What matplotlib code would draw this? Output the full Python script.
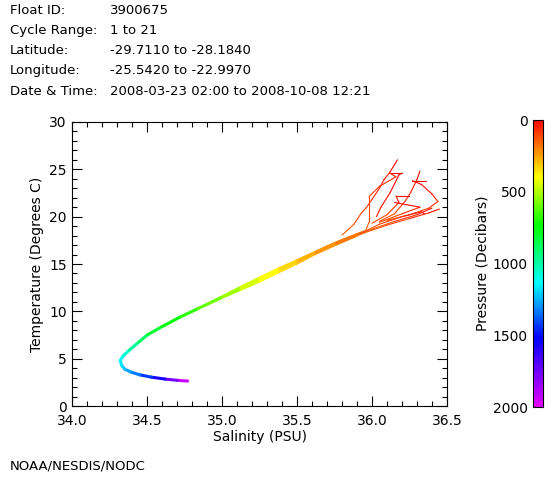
import numpy as np
import matplotlib
matplotlib.use("Agg")
import matplotlib.pyplot as plt
from matplotlib.collections import LineCollection
from matplotlib.colors import LinearSegmentedColormap

# header info
header_keys = ["Float ID:", "Cycle Range:", "Latitude:", "Longitude:", "Date & Time:"]
header_vals = ["3900675", "1 to 21", "-29.7110 to -28.1840",
               "-25.5420 to -22.9970",
               "2008-03-23 02:00 to 2008-10-08 12:21"]

# shared deep/intermediate T-S curve
deep_sal = [34.77, 34.70, 34.62, 34.53, 34.45, 34.39, 34.35, 34.33, 34.32, 34.34,
            34.38, 34.44, 34.50, 34.60, 34.72, 34.84, 34.96, 35.08, 35.20, 35.32,
            35.45, 35.58, 35.70, 35.82, 35.95]
deep_temp = [2.64, 2.72, 2.85, 3.05, 3.30, 3.60, 3.90, 4.30, 4.80, 5.30,
             5.90, 6.70, 7.50, 8.40, 9.40, 10.3, 11.2, 12.1, 13.0, 13.9,
             14.9, 15.9, 16.8, 17.6, 18.4]
deep_pres = [2000, 1880, 1650, 1480, 1380, 1300, 1250, 1200, 1150, 1100,
             1030, 940, 860, 790, 720, 650, 580, 510, 450, 390,
             330, 270, 220, 180, 150]

# spread of the profiles in the thermocline
mid_sal = [[34.90, 35.00, 35.12, 35.25, 35.38, 35.50, 35.62, 35.76, 35.90],
           [34.90, 35.00, 35.12, 35.25, 35.38, 35.50, 35.62, 35.76, 35.90],
           [34.90, 35.00, 35.12, 35.25, 35.38, 35.50, 35.62, 35.76, 35.90],
           [34.90, 35.00, 35.12, 35.25, 35.38, 35.50, 35.62, 35.76, 35.90]]
mid_temp = [[10.8, 11.6, 12.6, 13.6, 14.6, 15.45, 16.3, 17.3, 18.15],
            [10.7, 11.4, 12.2, 13.1, 14.1, 15.0, 16.0, 17.0, 17.95],
            [10.8, 11.55, 12.5, 13.45, 14.45, 15.3, 16.2, 17.2, 18.1],
            [10.7, 11.45, 12.35, 13.3, 14.3, 15.2, 16.1, 17.1, 18.0]]
mid_pres = [[620, 560, 490, 430, 370, 310, 260, 210, 170],
            [620, 560, 490, 430, 370, 310, 260, 210, 170],
            [620, 560, 490, 430, 370, 310, 260, 210, 170],
            [620, 560, 490, 430, 370, 310, 260, 210, 170]]

# near-surface parts of individual profiles
up_sal = [[35.80, 35.88, 35.93, 35.96, 36.00, 36.05, 36.08, 36.12, 36.17],
          [35.96, 35.98, 35.98, 36.05, 36.16, 36.12, 36.20, 36.18, 36.12, 36.06, 36.03],
          [36.05, 36.15, 36.22, 36.26, 36.30, 36.32],
          [36.10, 36.25, 36.38, 36.44, 36.40, 36.33, 36.27, 36.36],
          [36.00, 36.10, 36.18, 36.16, 36.25],
          [36.05, 36.20, 36.32, 36.15],
          [35.95, 36.15, 36.30, 36.40],
          [35.95, 36.10, 36.25, 36.38, 36.45],
          [35.92, 36.05, 36.20, 36.33, 36.35]]
up_temp = [[18.05, 19.2, 20.4, 20.9, 21.8, 23.0, 23.9, 24.7, 26.0],
           [18.6, 19.4, 22.1, 23.2, 24.2, 24.6, 24.6, 24.4, 22.5, 21.0, 20.0],
           [19.5, 20.3, 21.6, 22.6, 23.9, 24.8],
           [19.6, 20.2, 20.9, 21.6, 22.4, 23.4, 23.8, 23.8],
           [19.3, 20.2, 21.5, 22.2, 22.2],
           [19.4, 20.3, 21.0, 21.5],
           [18.4, 19.5, 20.2, 20.9],
           [18.3, 19.1, 19.8, 20.4, 20.8],
           [18.2, 19.2, 20.0, 20.5, 20.3]]
up_pres = [[160, 130, 110, 90, 70, 50, 35, 20, 5],
           [150, 130, 110, 90, 60, 40, 20, 5, 15, 30, 45],
           [140, 110, 80, 50, 20, 5],
           [140, 110, 80, 60, 40, 20, 10, 5],
           [150, 110, 60, 30, 5],
           [140, 90, 40, 5],
           [150, 110, 60, 5],
           [150, 120, 80, 40, 5],
           [160, 120, 70, 30, 5]]

cmap = LinearSegmentedColormap.from_list("ts", [
    (0.00, (1.0, 0.0, 0.0)),
    (0.10, (1.0, 0.5, 0.0)),
    (0.20, (1.0, 1.0, 0.0)),
    (0.37, (0.0, 1.0, 0.0)),
    (0.57, (0.0, 1.0, 1.0)),
    (0.76, (0.0, 0.0, 1.0)),
    (1.00, (0.9, 0.0, 1.0)),
])
norm = plt.Normalize(0, 2000)

fig = plt.figure(figsize=(5.6, 4.8), dpi=100)
ax = fig.add_axes([0.129, 0.154, 0.669, 0.592])

def add_profile(s, t, p, lw):
    pts = np.column_stack([s, t]).reshape(-1, 1, 2)
    segs = np.concatenate([pts[:-1], pts[1:]], axis=1)
    pm = (np.array(p[:-1]) + np.array(p[1:])) / 2.0
    lc = LineCollection(segs, cmap=cmap, norm=norm, linewidths=lw, capstyle="round")
    lc.set_array(pm)
    ax.add_collection(lc)

add_profile(deep_sal, deep_temp, deep_pres, 2.2)
for s, t, p in zip(mid_sal, mid_temp, mid_pres):
    add_profile(s, t, p, 1.0)
for s, t, p in zip(up_sal, up_temp, up_pres):
    add_profile(s, t, p, 0.8)

ax.set_xlim(34.0, 36.5)
ax.set_ylim(0, 30)
ax.set_xticks([34.0, 34.5, 35.0, 35.5, 36.0, 36.5])
ax.set_xticklabels(["34.0", "34.5", "35.0", "35.5", "36.0", "36.5"])
ax.set_yticks([0, 5, 10, 15, 20, 25, 30])
ax.set_xticks(np.arange(34.0, 36.51, 0.1), minor=True)
ax.set_yticks(np.arange(0, 31, 1), minor=True)
ax.tick_params(which="both", direction="in", top=True, right=True, labelsize=10,
               width=0.8, color="black")
ax.tick_params(which="major", length=7)
ax.tick_params(which="minor", length=3.5)
ax.tick_params(axis="x", which="major", pad=6)
ax.tick_params(axis="y", which="major", pad=4)
for sp in ax.spines.values():
    sp.set_linewidth(0.8)
ax.set_xlabel("Salinity (PSU)", fontsize=10, labelpad=1)
ax.set_ylabel("Temperature (Degrees C)", fontsize=10, labelpad=4)

# colorbar
cax = fig.add_axes([0.952, 0.152, 0.018, 0.598])
grad = np.linspace(0, 2000, 256).reshape(-1, 1)
cax.imshow(grad, aspect="auto", cmap=cmap, norm=norm, extent=[0, 1, 2000, 0])
cax.set_xticks([])
cax.set_ylim(2000, 0)
cax.set_yticks([0, 500, 1000, 1500, 2000])
cax.yaxis.set_ticks_position("left")
cax.tick_params(length=0, labelsize=10, pad=4)
cax.set_ylabel("Pressure (Decibars)", fontsize=10, labelpad=2)
cax.yaxis.set_label_position("left")
for sp in cax.spines.values():
    sp.set_linewidth(0.8)

# header block
for i, (k, v) in enumerate(zip(header_keys, header_vals)):
    y = 1 - (10 + i * 20.3) / 480
    fig.text(10 / 560, y, k, fontsize=9.5, va="center", ha="left")
    fig.text(110 / 560, y, v, fontsize=9.5, va="center", ha="left")

fig.text(10 / 560, 1 - 466 / 480, "NOAA/NESDIS/NODC", fontsize=9.5, va="center", ha="left")

fig.savefig("out.png", dpi=100)
